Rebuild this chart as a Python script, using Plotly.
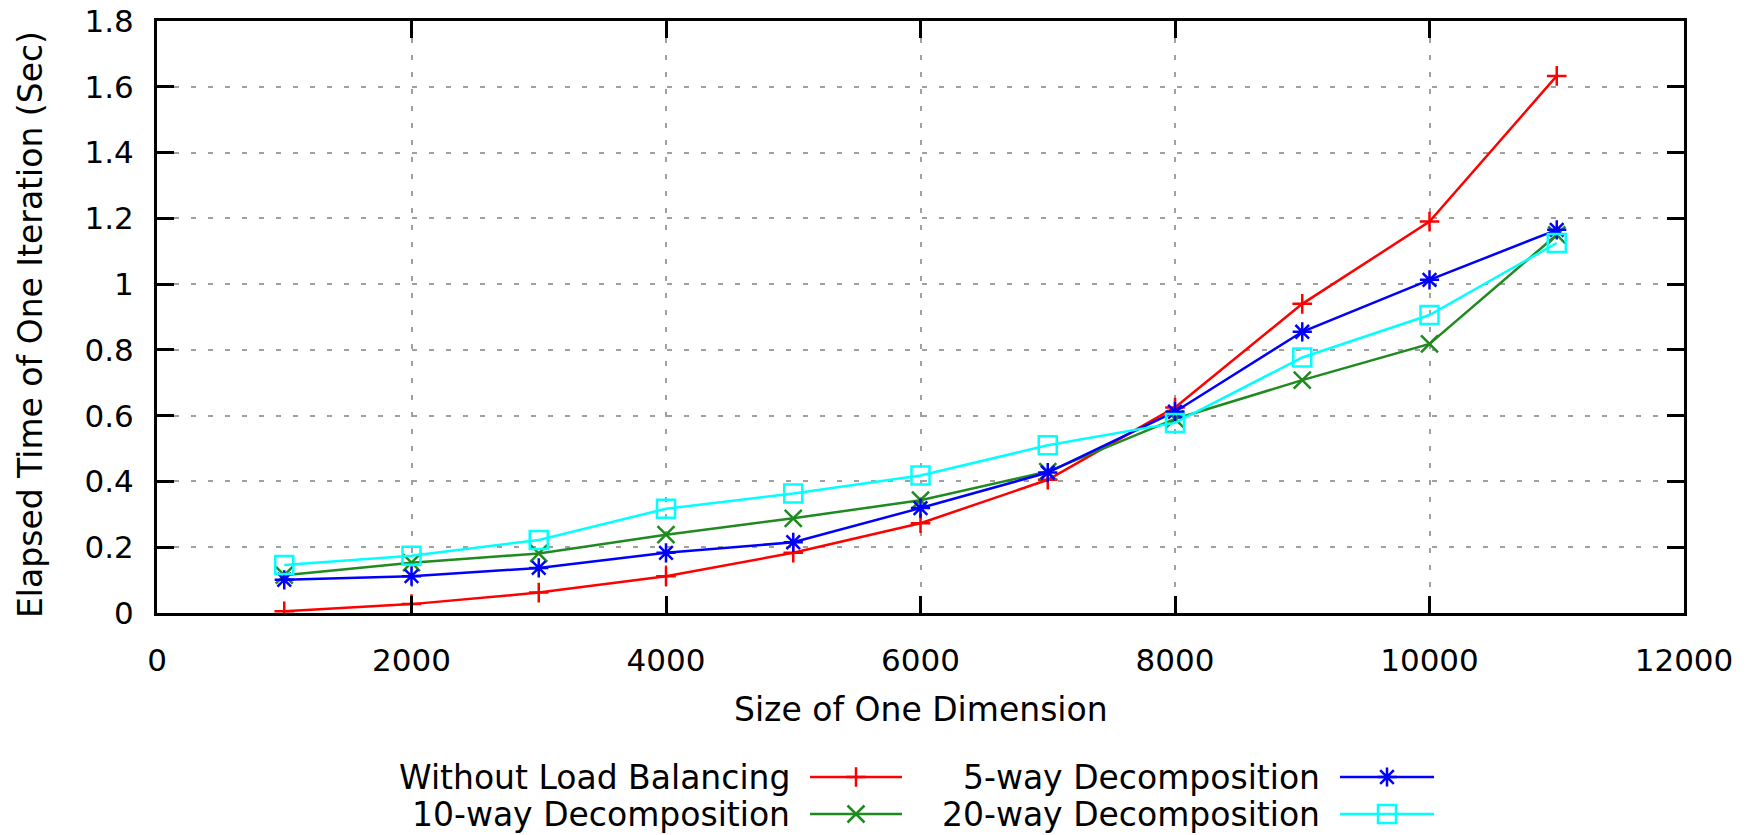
import plotly.graph_objects as go

# Problem size (one dimension) and elapsed time per iteration in seconds
sizes = [1000, 2000, 3000, 4000, 5000, 6000, 7000, 8000, 9000, 10000, 11000]
without_lb = [0.005, 0.027, 0.062, 0.112, 0.183, 0.273, 0.405, 0.625, 0.940, 1.190, 1.633]
way10 = [0.115, 0.153, 0.181, 0.238, 0.288, 0.343, 0.430, 0.590, 0.708, 0.818, 1.150]
way5 = [0.101, 0.112, 0.137, 0.183, 0.215, 0.319, 0.427, 0.612, 0.855, 1.013, 1.165]
way20 = [0.146, 0.174, 0.222, 0.317, 0.363, 0.418, 0.510, 0.578, 0.777, 0.906, 1.125]

x_ticks = [0, 2000, 4000, 6000, 8000, 10000, 12000]
y_ticks = [0, 0.2, 0.4, 0.6, 0.8, 1.0, 1.2, 1.4, 1.6, 1.8]
y_tick_text = ["0", "0.2", "0.4", "0.6", "0.8", "1", "1.2", "1.4", "1.6", "1.8"]

W, H = 1755, 835
PL, PR, PT, PB = 157, 1684, 21, 613  # plot box in pixels
FONT = "DejaVu Sans"
FS_TICK = 31
FS_TEXT = 33

series = [
    ("Without Load Balancing", without_lb, "#ff0000", "cross-thin-open", 14),
    ("10-way Decomposition", way10, "#1f8a1f", "x-thin-open", 17),
    ("5-way Decomposition", way5, "#0000ff", "asterisk-open", 16),
    ("20-way Decomposition", way20, "#00ffff", "square-open", 18),
]

fig = go.Figure()
for name, vals, color, sym, size in series:
    fig.add_trace(go.Scatter(
        x=sizes, y=vals, name=name, mode="lines+markers",
        line=dict(color=color, width=2.5),
        marker=dict(symbol=sym, size=size, color=color,
                    line=dict(color=color, width=2.5)),
        showlegend=False, xaxis="x", yaxis="y",
    ))

# Key: text right-aligned, sample line with marker to its right (two columns)
key_slots = [
    (792, 810, 902, 777),
    (792, 810, 902, 814),
    (1322, 1340, 1434, 777),
    (1322, 1340, 1434, 814),
]
annotations = []
for (name, vals, color, sym, size), (tx, lx0, lx1, ly) in zip(series, key_slots):
    fig.add_trace(go.Scatter(
        x=[lx0, lx1], y=[ly, ly], mode="lines",
        line=dict(color=color, width=2.5),
        showlegend=False, hoverinfo="skip", xaxis="x2", yaxis="y2",
    ))
    fig.add_trace(go.Scatter(
        x=[(lx0 + lx1) / 2], y=[ly], mode="markers",
        marker=dict(symbol=sym, size=size, color=color,
                    line=dict(color=color, width=2.5)),
        showlegend=False, hoverinfo="skip", xaxis="x2", yaxis="y2",
    ))
    annotations.append(dict(
        x=tx, y=ly, xref="x2", yref="y2", text=name, showarrow=False,
        xanchor="right", yanchor="middle",
        font=dict(family=FONT, size=FS_TEXT, color="#000"),
    ))

annotations.append(dict(
    x=(PL + PR) / 2, y=709, xref="x2", yref="y2", text="Size of One Dimension",
    showarrow=False, xanchor="center", yanchor="middle",
    font=dict(family=FONT, size=FS_TEXT, color="#000"),
))
annotations.append(dict(
    x=30, y=325, xref="x2", yref="y2",
    text="Elapsed Time of One Iteration (Sec)", textangle=-90,
    showarrow=False, xanchor="center", yanchor="middle",
    font=dict(family=FONT, size=FS_TEXT, color="#000"),
))

axis_common = dict(
    showline=True, linecolor="#000", linewidth=3, mirror="ticks",
    ticks="inside", ticklen=17, tickwidth=3, tickcolor="#000",
    showgrid=True, gridcolor="#a0a0a0", gridwidth=2, griddash="5px,12px",
    zeroline=False, tickfont=dict(family=FONT, size=FS_TICK, color="#000"),
    automargin=False,
)

fig.update_layout(
    width=W, height=H,
    margin=dict(l=0, r=0, t=0, b=0),
    paper_bgcolor="white", plot_bgcolor="rgba(0,0,0,0)",
    xaxis=dict(
        domain=[PL / W, PR / W], range=[0, 12000],
        tickmode="array", tickvals=x_ticks, ticktext=[str(v) for v in x_ticks],
        ticklabelstandoff=18, anchor="y", **axis_common,
    ),
    yaxis=dict(
        domain=[1 - PB / H, 1 - PT / H], range=[0, 1.8],
        tickmode="array", tickvals=y_ticks, ticktext=y_tick_text,
        ticklabelstandoff=14, anchor="x", **axis_common,
    ),
    xaxis2=dict(domain=[0, 1], range=[0, W], visible=False, anchor="y2",
                fixedrange=True),
    yaxis2=dict(domain=[0, 1], range=[H, 0], visible=False, anchor="x2",
                fixedrange=True),
    annotations=annotations,
    showlegend=False,
)

fig.write_html("out.html")
